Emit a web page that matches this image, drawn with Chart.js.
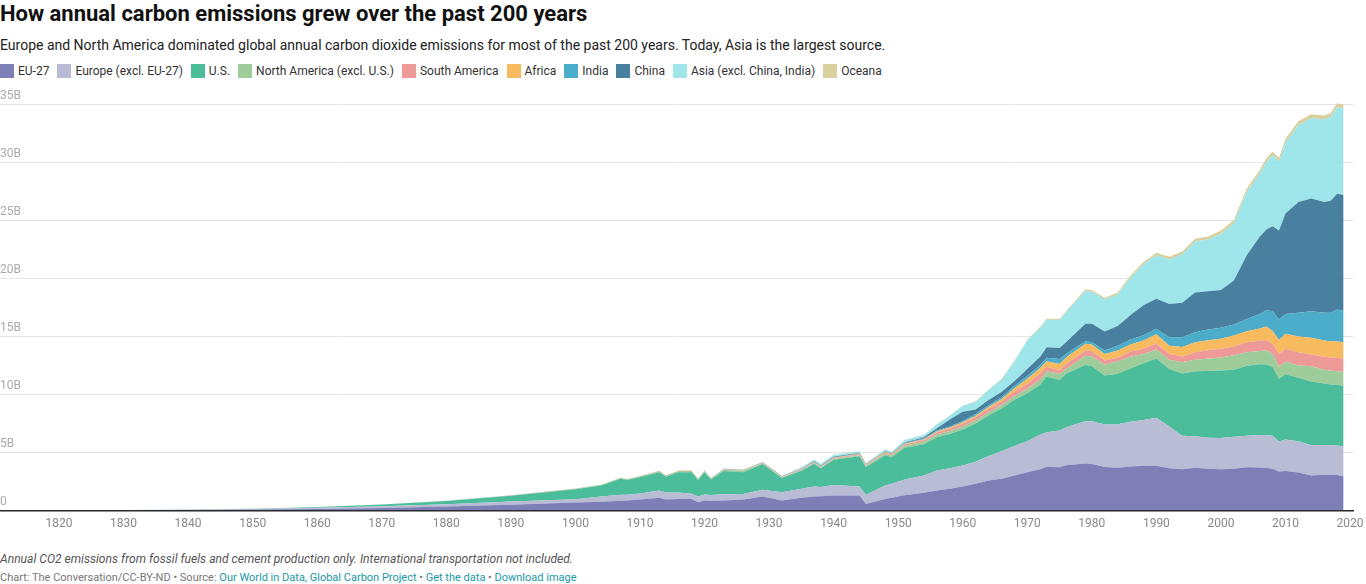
<!DOCTYPE html>
<html>
<head>
<meta charset="utf-8">
<title>How annual carbon emissions grew over the past 200 years</title>
<script src="https://cdn.jsdelivr.net/npm/chart.js@4"></script>
<style>
  html, body { margin: 0; padding: 0; background: #fff; overflow: hidden; }
  body { width: 1366px; height: 584px; position: relative; font-family: Roboto, sans-serif; }
  h1 { position: absolute; left: 0; top: 0; margin: 0; font-size: 22px; line-height: 28px; font-weight: 700; color: #111; white-space: nowrap; }
  #sub { position: absolute; left: 0; top: 36px; font-size: 14px; line-height: 18px; color: #222; white-space: nowrap; }
  #legend { position: absolute; left: 0; top: 64px; height: 14px; display: flex; font-size: 12px; line-height: 15px; color: #333; white-space: nowrap; }
  #legend span { display: flex; margin-right: 8px; }
  #legend i { width: 14px; height: 14px; margin-right: 4px; display: block; }
  #wrap { position: absolute; left: 0; top: 80px; width: 1366px; height: 455px; }
  #note { position: absolute; left: 0; top: 552px; font-size: 12.1px; line-height: 14px; font-style: italic; color: #555; white-space: nowrap; }
  #source { position: absolute; left: 0; top: 570px; font-size: 11px; line-height: 15px; color: #777; white-space: nowrap; }
  #source a { color: #1a98a6; text-decoration: none; }
</style>
</head>
<body>
<h1>How annual carbon emissions grew over the past 200 years</h1>
<div id="sub">Europe and North America dominated global annual carbon dioxide emissions for most of the past 200 years. Today, Asia is the largest source.</div>
<div id="legend"></div>
<div id="wrap"><canvas id="myChart" width="1366" height="455"></canvas></div>
<div id="note">Annual CO2 emissions from fossil fuels and cement production only. International transportation not included.</div>
<div id="source">Chart: The Conversation/CC-BY-ND • Source: <a href="#">Our World in Data, Global Carbon Project</a> • <a href="#">Get the data</a> • <a href="#">Download image</a></div>
<script>
const years = [
  1811,1820,1830,1840,1850,1860,1870,1880,1890,1900,
  1904,1907,1908,1910,1913,1914,1916,1918,1919,1920,
  1921,1923,1926,1929,1932,1935,1937,1938,1940,1944,
  1945,1948,1949,1951,1954,1956,1958,1960,1962,1964,
  1966,1968,1970,1972,1973,1975,1976,1979,1980,1982,
  1984,1986,1988,1990,1992,1994,1996,1998,2000,2002,
  2004,2006,2007,2008,2009,2010,2012,2014,2016,2017,
  2018,2019];

// billions of tonnes
const eu27 = [
  .01,.015,.02,.04,.08,.14,.22,.34,.5,.68,
  .75,.85,.86,.95,1.09,.95,1,1,.72,.86,
  .83,.86,.95,1.2,.86,1.1,1.2,1.22,1.3,1.3,
  .57,1,1.1,1.32,1.52,1.72,1.87,2.07,2.3,2.59,
  2.73,3.02,3.3,3.55,3.78,3.73,3.9,4.05,4,3.75,
  3.68,3.8,3.85,3.85,3.65,3.55,3.68,3.6,3.55,3.6,
  3.72,3.7,3.68,3.6,3.36,3.4,3.28,3.02,3.09,3.08,
  3.07,2.93];
const europeOther = [
  .01,.01,.015,.025,.05,.09,.14,.2,.27,.3,
  .45,.5,.5,.52,.63,.6,.55,.45,.48,.52,
  .5,.55,.48,.58,.72,.78,.87,.8,.9,.77,
  .78,1.16,1.2,1.35,1.5,1.73,1.78,1.81,1.9,2.11,
  2.37,2.53,2.68,3,2.97,3.17,3.28,3.65,3.7,3.66,
  3.76,3.85,3.95,4.15,3.59,2.89,2.72,2.68,2.69,2.75,
  2.72,2.8,2.82,2.84,2.59,2.72,2.7,2.61,2.55,2.55,
  2.54,2.59];
const us = [
  0,.002,.005,.015,.03,.08,.15,.28,.5,.85,
  .95,1.38,1.27,1.4,1.58,1.37,1.75,1.85,1.44,1.92,
  1.35,2,1.87,2.22,1.22,1.55,1.95,1.62,2.17,2.6,
  2.39,2.6,2.3,2.75,2.7,2.87,2.95,3.1,3.3,3.5,
  3.7,4,4.12,4.3,4.8,4.36,4.6,4.85,4.74,4.23,
  4.34,4.6,4.9,5.1,4.96,5.36,5.6,5.75,5.83,5.78,
  6.03,6.1,6.09,5.92,5.4,5.63,5.46,5.49,5.3,5.23,
  5.2,5.23];
const northAmericaOther = [
  0,0,0,0,0,0,.01,.02,.03,.05,
  .06,.07,.07,.08,.09,.08,.1,.1,.07,.1,
  .09,.12,.12,.06,.05,.07,.08,.07,.08,.1,
  .1,.15,.13,.16,.2,.23,.25,.27,.28,.28,
  .28,.33,.39,.45,.45,.52,.42,.78,.84,.92,
  1.09,1,.8,.78,.8,.99,1,1.07,1.13,1.25,
  1.18,1.15,1.23,1.14,1.01,1.09,1.06,1.32,1.2,1.21,
  1.2,1.18];
const southAmerica = [
  0,0,0,0,0,0,0,.01,.01,.01,
  .01,.02,.02,.02,.03,.03,.03,.03,.02,.03,
  .03,.04,.05,.04,.04,.05,.06,.06,.06,.08,
  .09,.1,.1,.12,.15,.18,.2,.23,.25,.27,
  .3,.38,.41,.5,.4,.29,.44,.47,.46,.37,
  .29,.45,.44,.49,.5,.49,.65,.72,.74,.75,
  .85,.88,.88,.87,1.14,1.1,1.15,1.01,1.12,1.13,
  1.13,1.2];
const africa = [
  0,0,0,0,0,0,0,0,0,0,
  0,0,0,.01,.01,.01,.01,.01,.01,.01,
  .01,.01,.02,.02,.02,.02,.03,.03,.03,.04,
  .04,.05,.05,.06,.07,.09,.1,.12,.14,.17,
  .22,.28,.45,.48,.47,.57,.56,.57,.56,.57,
  .64,.6,.71,.83,.7,.82,.85,.85,.86,.95,
  .96,1.07,1.16,1.13,1.2,1.29,1.35,1.45,1.4,1.4,
  1.42,1.37];
const india = [
  0,0,0,0,0,0,0,0,0,0,
  0,0,0,0,0,0,0,0,0,.01,
  0,.02,.02,.02,.02,.03,.03,.03,.03,.04,
  .04,.05,.05,.06,.07,.08,.1,.12,.14,.16,
  .17,.2,.25,.27,.29,.43,.3,.23,.2,.3,
  .4,.45,.45,.46,.74,.84,.87,.93,.95,.95,
  1.04,1.25,1.38,1.7,1.76,1.72,2.04,2.28,2.38,2.44,
  2.77,2.7];
const china = [
  0,0,0,0,0,0,0,0,0,0,
  0,0,0,0,0,0,0,0,0,0,
  0,0,.01,.01,.02,.03,.04,.05,.06,.05,
  .01,.02,.02,.05,.1,.2,.6,.8,.4,.45,
  .45,.4,.6,.7,.92,.93,1,1.5,1.6,1.63,
  1.7,2.1,2.6,2.59,2.86,2.96,3.43,3.3,3.25,3.8,
  5.5,6.65,6.96,7.3,7.68,8.65,9.56,9.72,9.56,9.66,
  9.97,10];
const asiaOther = [
  0,0,0,0,0,0,0,0,0,0,
  0,0,0,0,0,0,0,0,0,0,
  0,.01,.02,.02,.03,.08,.13,.13,.16,.1,
  .03,.13,.1,.2,.2,.33,.3,.5,.65,.85,
  1.05,1.7,2.45,2.49,2.36,2.43,2.58,2.82,2.75,2.75,
  2.72,3.21,3.52,3.75,3.84,4.18,4.38,4.46,4.85,4.92,
  5.45,5.44,5.84,6.14,5.96,6.13,6.63,6.92,7.12,7.22,
  7.46,7.46];
const oceania = [
  0,0,0,0,0,0,0,0,0,0,
  0,0,0,0,0,0,0,0,0,0,
  0,0,0,.01,.01,.01,.01,.01,.01,.02,
  .02,.02,.02,.02,.03,.03,.04,.04,.05,.05,
  .06,.07,.08,.09,.1,.11,.12,.15,.15,.17,
  .18,.19,.2,.22,.23,.24,.25,.27,.28,.29,
  .3,.31,.31,.31,.31,.32,.33,.34,.34,.34,
  .34,.34];

const seriesNames = ["EU-27","Europe (excl. EU-27)","U.S.","North America (excl. U.S.)","South America","Africa","India","China","Asia (excl. China, India)","Oceana"];
const seriesValues = [eu27, europeOther, us, northAmericaOther, southAmerica, africa, india, china, asiaOther, oceania];
const seriesColors = ["rgba(113,113,176,.9)","rgba(176,181,208,.9)","rgba(55,182,143,.9)","rgba(149,198,144,.9)","rgba(236,143,141,.9)","rgba(247,179,78,.9)","rgba(55,164,195,.9)","rgba(54,114,149,.9)","rgba(149,227,232,.9)","rgba(213,202,149,.9)"];
const xTicks = [1820,1830,1840,1850,1860,1870,1880,1890,1900,1910,1920,1930,1940,1950,1960,1970,1980,1990,2000,2010,2020];
const yTicks = [0,5,10,15,20,25,30,35];

const legend = document.querySelector("#legend");
seriesNames.forEach((name, i) => {
  const item = document.createElement("span");
  const box = document.createElement("i");
  box.style.background = seriesColors[i];
  item.appendChild(box);
  item.appendChild(document.createTextNode(name));
  legend.appendChild(item);
});

const datasets = seriesNames.map((name, i) => {
  return {
    label: name,
    data: years.map((year, j) => ({ x: year, y: seriesValues[i][j] })),
    backgroundColor: seriesColors[i],
    borderWidth: 0,
    pointRadius: 0,
    tension: 0,
    fill: i === 0 ? "origin" : "-1"
  };
});

new Chart(document.getElementById("myChart"), {
  type: "line",
  data: { datasets },
  options: {
    responsive: false,
    animation: false,
    layout: { padding: { left: 0, right: 13, top: 18.7, bottom: 0 } },
    plugins: { legend: { display: false }, tooltip: { enabled: false } },
    scales: {
      x: {
        type: "linear",
        min: 1810.86,
        max: 2020.46,
        afterBuildTicks: (axis) => { axis.ticks = xTicks.map((v) => ({ value: v })); },
        afterFit: (axis) => {
          axis.height = 24.5;
          axis.paddingLeft = 0;
          axis.paddingRight = 0; // otherwise the 2020 label shrinks the plot
        },
        grid: { display: false, drawTicks: false },
        border: { color: "#222", width: 1.5 },
        ticks: {
          autoSkip: false,
          maxRotation: 0,
          padding: 6,
          color: "#888",
          font: { family: "Roboto", size: 12 },
          callback: (v) => String(v)
        }
      },
      y: {
        stacked: true,
        min: 0,
        max: 35.5,
        afterBuildTicks: (axis) => { axis.ticks = yTicks.map((v) => ({ value: v })); },
        afterFit: (axis) => { axis.width = 0; },
        grid: { color: "#e4e4e4", drawTicks: false },
        border: { display: false },
        ticks: {
          autoSkip: false,
          mirror: true,
          padding: 0,
          labelOffset: -9,
          color: "#aaa",
          font: { family: "Roboto", size: 12 },
          callback: (v) => (v === 0 ? "0" : v + "B")
        }
      }
    }
  }
});
</script>
</body>
</html>
